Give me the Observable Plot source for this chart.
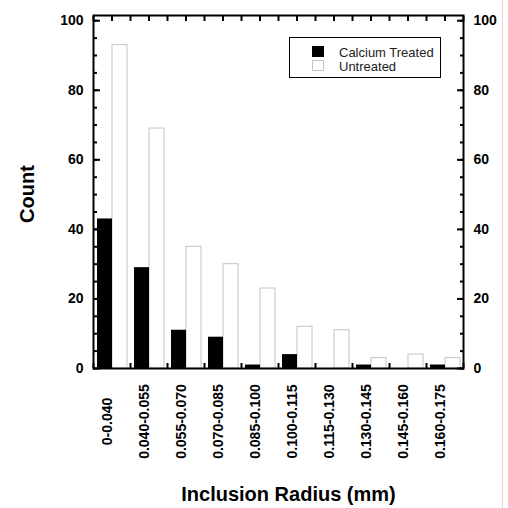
<!DOCTYPE html>
<html>
<head>
<meta charset="utf-8">
<script src="https://cdn.jsdelivr.net/npm/d3@7"></script>
<script src="https://cdn.jsdelivr.net/npm/@observablehq/plot@0.6"></script>
<style>
  html, body { margin: 0; padding: 0; background: #fff; }
  #wrap { position: relative; width: 508px; height: 508px; overflow: hidden; }
  #legend { position: absolute; left: 289px; top: 37px; width: 152px; height: 41px;
    border: 1px solid #000; background: #fff; box-sizing: border-box;
    font-family: "Liberation Sans", Arial, sans-serif; font-size: 13px; color: #222; }
  .sw { position: absolute; left: 22px; width: 12px; height: 11px; box-sizing: border-box; }
  .lt { position: absolute; left: 49px; line-height: 13px; white-space: nowrap; }
  #edge { position: absolute; left: 502px; top: 0; width: 1px; height: 508px; background: #f5cccc; }
</style>
</head>
<body>
<div id="wrap">
  <div id="chart"></div>
  <div id="legend"></div>
  <div id="edge"></div>
</div>
<script>
const categories = ["0-0.040", "0.040-0.055", "0.055-0.070", "0.070-0.085", "0.085-0.100",
  "0.100-0.115", "0.115-0.130", "0.130-0.145", "0.145-0.160", "0.160-0.175"];
const calciumTreated = [43, 29, 11, 9, 1, 4, 0, 1, 0, 1];
const untreated = [93, 69, 35, 30, 23, 12, 11, 3, 4, 3];
const seriesNames = ["Calcium Treated", "Untreated"];
const yMajorTicks = [0, 20, 40, 60, 80, 100];
const yMinorTicks = d3.range(0, 101, 5);
const xTitle = "Inclusion Radius (mm)";
const yTitle = "Count";

const rowsCa = categories.map((c, i) => ({i, cat: c, count: calciumTreated[i]}));
const rowsUn = categories.map((c, i) => ({i, cat: c, count: untreated[i]}));
const boundaries = d3.range(0, categories.length + 1);
const halfTicks = d3.range(0, categories.length * 2 + 1).map(k => k / 2);
const font = "'Liberation Sans', Arial, sans-serif";

const chart = Plot.plot({
  width: 508,
  height: 508,
  marginLeft: 93,
  marginRight: 45,
  marginTop: 15,
  marginBottom: 140,
  style: {fontFamily: font, background: "#fff", overflow: "visible"},
  x: {domain: [0, categories.length]},
  y: {domain: [0, 101.5]},
  marks: [
    Plot.rectY(rowsUn, {x1: d => d.i, x2: d => d.i + 1, y: "count", fill: "#fff", stroke: "#c4c4c4", strokeWidth: 1, insetLeft: 19, insetRight: 3}),
    Plot.rectY(rowsCa, {x1: d => d.i, x2: d => d.i + 1, y: "count", fill: "#000", insetLeft: 4, insetRight: 18}),
    // bottom ticks (inward) at category boundaries
    Plot.axisX({anchor: "bottom", ticks: boundaries, tickSize: -5, strokeWidth: 2, tickFormat: () => "", label: null}),
    // top ticks
    Plot.axisX({anchor: "top", ticks: halfTicks, tickSize: -5, strokeWidth: 2, tickFormat: () => "", label: null}),
    // left axis
    Plot.axisY({anchor: "left", ticks: yMinorTicks, tickSize: -4, strokeWidth: 2, tickFormat: () => "", label: null}),
    Plot.axisY({anchor: "left", ticks: yMajorTicks, tickSize: -7, tickPadding: 17, strokeWidth: 2,
      fontSize: 14, fontWeight: "bold", fill: "#000", tickFormat: d3.format("d"), label: null}),
    // right axis
    Plot.axisY({anchor: "right", ticks: yMinorTicks, tickSize: -4, strokeWidth: 2, tickFormat: () => "", label: null}),
    Plot.axisY({anchor: "right", ticks: yMajorTicks, tickSize: -7, tickPadding: 17, strokeWidth: 2,
      fontSize: 14, fontWeight: "bold", fill: "#000", tickFormat: d3.format("d"), label: null}),
    Plot.frame({stroke: "#000", strokeWidth: 2}),
    // rotated category labels
    Plot.text(categories, {x: (d, i) => i + 0.5, text: d => d, frameAnchor: "bottom", dy: 53, dx: -4,
      rotate: -90, textAnchor: "middle", lineAnchor: "middle", fontSize: 14, fontWeight: "bold", fill: "#000"}),
    // axis titles
    Plot.text([xTitle], {text: d => d, frameAnchor: "bottom", dy: 126, dx: 10, textAnchor: "middle",
      lineAnchor: "middle", fontSize: 20, fontWeight: "bold", fill: "#000"}),
    Plot.text([yTitle], {text: d => d, frameAnchor: "left", dx: -66, dy: 2, rotate: -90, textAnchor: "middle",
      lineAnchor: "middle", fontSize: 20, fontWeight: "bold", fill: "#000"})
  ]
});
document.getElementById("chart").appendChild(chart);

// legend
const legend = document.getElementById("legend");
const swatchStyles = [
  {background: "#000", border: "none"},
  {background: "#fff", border: "1px solid #c4c4c4"}
];
seriesNames.forEach((name, k) => {
  const sw = document.createElement("div");
  sw.className = "sw";
  sw.style.top = (8 + k * 14) + "px";
  Object.assign(sw.style, swatchStyles[k]);
  legend.appendChild(sw);
  const t = document.createElement("div");
  t.className = "lt";
  t.style.top = (8 + k * 14) + "px";
  t.textContent = name;
  legend.appendChild(t);
});
</script>
</body>
</html>
